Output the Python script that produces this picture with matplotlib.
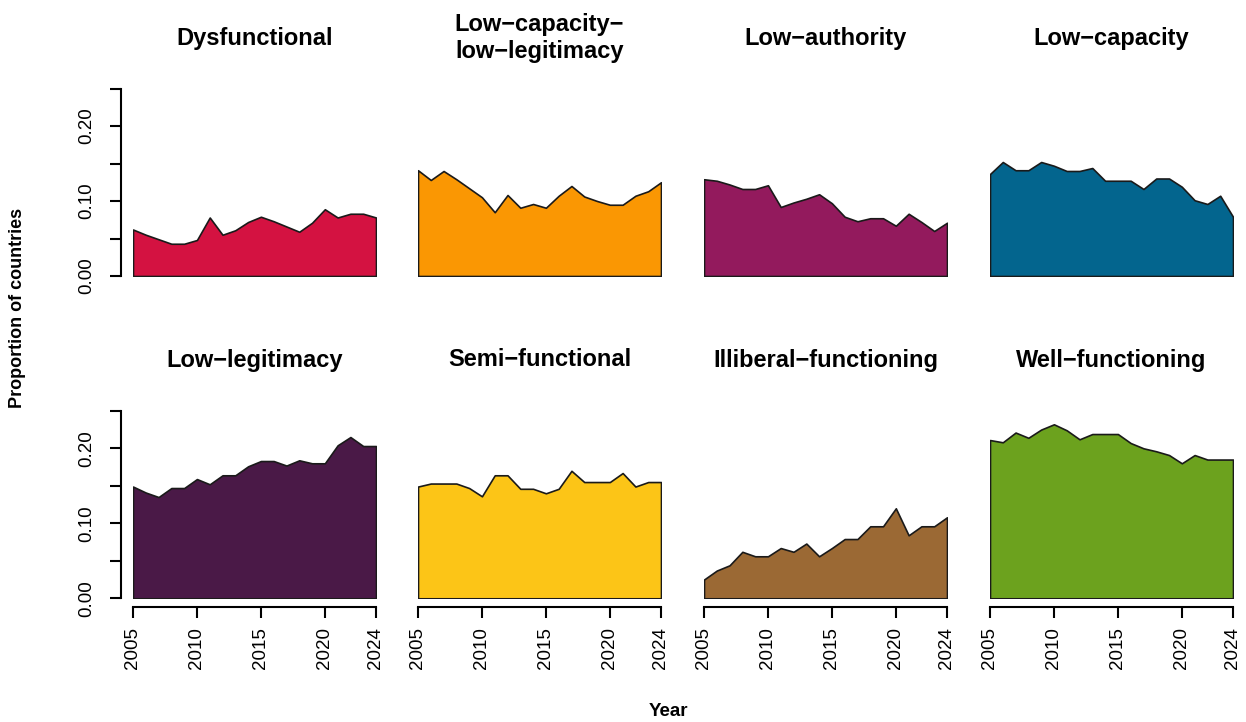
import numpy as np
import matplotlib.pyplot as plt

plt.rcParams['font.family'] = ['Liberation Sans', 'DejaVu Sans']

years = np.arange(2005, 2025)

titles = ["Dysfunctional", "Low\u2212capacity\u2212\nlow\u2212legitimacy", "Low\u2212authority",
          "Low\u2212capacity", "Low\u2212legitimacy", "Semi\u2212functional",
          "Illiberal\u2212functioning", "Well\u2212functioning"]

colors = ["#D41241", "#FA9703", "#931A5D", "#03658E",
          "#4A1947", "#FCC517", "#9B6934", "#6CA21E"]

dysfunctional = [0.062, 0.055, 0.049, 0.043, 0.043, 0.048, 0.078, 0.055, 0.061, 0.072,
                 0.079, 0.073, 0.066, 0.059, 0.071, 0.089, 0.078, 0.083, 0.083, 0.078]
low_cap_low_leg = [0.141, 0.128, 0.140, 0.129, 0.117, 0.105, 0.085, 0.108, 0.091, 0.096,
                   0.091, 0.107, 0.120, 0.106, 0.100, 0.095, 0.095, 0.107, 0.113, 0.125]
low_authority = [0.129, 0.127, 0.122, 0.116, 0.116, 0.121, 0.092, 0.098, 0.103, 0.109,
                 0.097, 0.079, 0.073, 0.077, 0.077, 0.067, 0.083, 0.072, 0.060, 0.071]
low_capacity = [0.136, 0.152, 0.141, 0.141, 0.152, 0.147, 0.140, 0.140, 0.144, 0.127,
                0.127, 0.127, 0.116, 0.130, 0.130, 0.119, 0.101, 0.096, 0.107, 0.079]
low_legitimacy = [0.149, 0.141, 0.135, 0.147, 0.147, 0.159, 0.152, 0.164, 0.164, 0.176,
                  0.183, 0.183, 0.177, 0.184, 0.180, 0.180, 0.204, 0.215, 0.203, 0.203]
semi_functional = [0.149, 0.153, 0.153, 0.153, 0.147, 0.136, 0.164, 0.164, 0.146, 0.146,
                   0.140, 0.146, 0.170, 0.155, 0.155, 0.155, 0.167, 0.149, 0.155, 0.155]
illiberal = [0.025, 0.037, 0.044, 0.062, 0.056, 0.056, 0.067, 0.062, 0.073, 0.056,
             0.067, 0.079, 0.079, 0.096, 0.096, 0.120, 0.084, 0.096, 0.096, 0.108]
well_functioning = [0.211, 0.208, 0.221, 0.214, 0.225, 0.232, 0.224, 0.212, 0.219, 0.219,
                    0.219, 0.207, 0.200, 0.196, 0.191, 0.180, 0.191, 0.185, 0.185, 0.185]

series = [dysfunctional, low_cap_low_leg, low_authority, low_capacity,
          low_legitimacy, semi_functional, illiberal, well_functioning]

W, H = 1246, 722
fig = plt.figure(figsize=(W / 100, H / 100), dpi=100)

lefts = [133, 418, 704, 990]
bottoms = [276, 598.3]   # pixel y of zero line
pw, ph = 243, 187.5

for i in range(8):
    row, col = divmod(i, 4)
    ax = fig.add_axes([lefts[col] / W, 1 - bottoms[row] / H, pw / W, ph / H])
    ax.fill_between(years, 0, series[i], facecolor=colors[i], edgecolor='#1a1a1a', linewidth=1.2)
    ax.set_xlim(2005, 2024)
    ax.set_ylim(0, 0.25)
    ax.patch.set_visible(False)
    for s in ['top', 'right']:
        ax.spines[s].set_visible(False)

    # y axis only on the first column, R-style detached
    if col == 0:
        ax.spines['left'].set_position(('outward', 9))
        ax.spines['left'].set_bounds(0, 0.25)
        ax.spines['left'].set_linewidth(1.5)
        ax.set_yticks(np.arange(0, 0.26, 0.05))
        ax.set_yticklabels(['0.00', '', '0.10', '', '0.20', ''], rotation=90, va='center')
        ax.tick_params(axis='y', length=8, width=1.5, labelsize=13.5, pad=10)
    else:
        ax.spines['left'].set_visible(False)
        ax.set_yticks([])

    if row == 1:
        ax.spines['bottom'].set_position(('outward', 6))
        ax.spines['bottom'].set_bounds(2005, 2024)
        ax.spines['bottom'].set_linewidth(1.5)
        ax.set_xticks([2005, 2010, 2015, 2020, 2024])
        ax.set_xticklabels(['2005', '2010', '2015', '2020', '2024'], rotation=90)
        ax.tick_params(axis='x', length=8, width=1.5, labelsize=13.5, pad=7)
    else:
        ax.spines['bottom'].set_visible(False)
        ax.set_xticks([])

    title_y = [38, 360][row]
    fig.text((lefts[col] + pw / 2) / W, 1 - title_y / H, titles[i], ha='center', va='center',
             fontsize=17, fontweight='bold', linespacing=1.25)

fig.text(18 / W, 1 - 308 / H, 'Proportion of countries', rotation=90, ha='center', va='center',
         fontsize=13, fontweight='bold')
fig.text(668 / W, 1 - 711 / H, 'Year', ha='center', va='center', fontsize=13.5, fontweight='bold')

fig.savefig('out.png', dpi=100)
